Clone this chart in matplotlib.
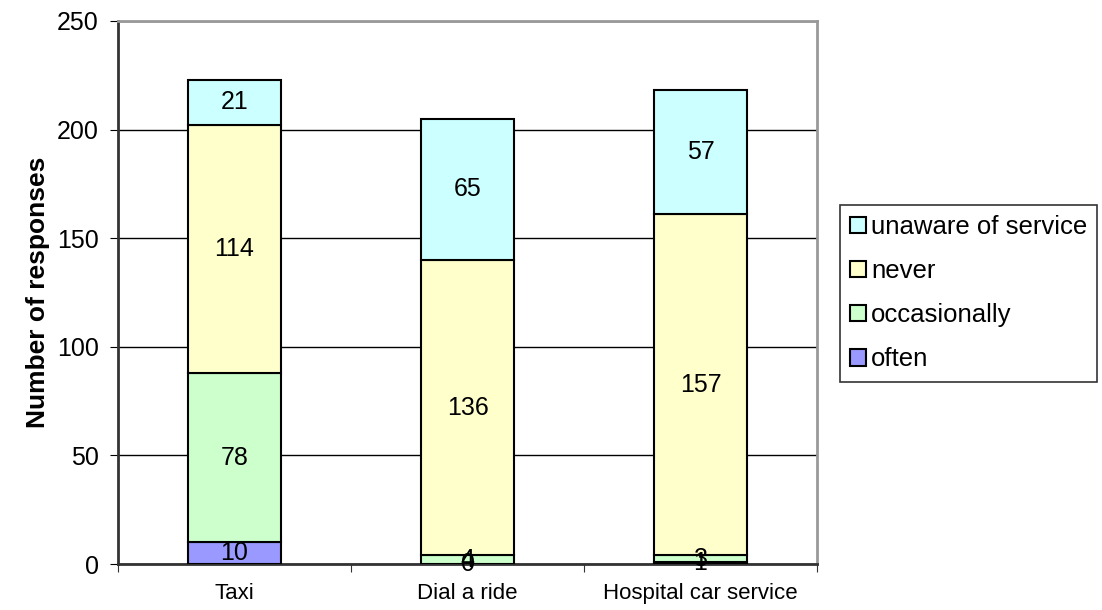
import numpy as np
import matplotlib.pyplot as plt

plt.rcParams['font.family'] = ['Liberation Sans', 'DejaVu Sans']

# data
categories = ["Taxi", "Dial a ride", "Hospital car service"]
series = ["often", "occasionally", "never", "unaware of service"]
often = [10, 0, 1]
occasionally = [78, 4, 3]
never = [114, 136, 157]
unaware = [21, 65, 57]
colors = ["#9999FF", "#CCFFCC", "#FFFFCC", "#CCFFFF"]

fig = plt.figure(figsize=(11.02, 6.10), dpi=100)
ax = fig.add_axes([0.1071, 0.0754, 0.6343, 0.8902])

x = np.arange(len(categories))
bottom = np.zeros(len(categories))
handles = []
for name, vals, col in zip(series, [often, occasionally, never, unaware], colors):
    vals = np.array(vals, dtype=float)
    bars = ax.bar(x, vals, width=0.4, bottom=bottom, color=col,
                  edgecolor="black", linewidth=1.5, label=name, zorder=3)
    handles.append(bars)
    for xi, b, v in zip(x, bottom, vals):
        ax.text(xi, b + v / 2, f"{int(v)}", ha="center", va="center",
                fontsize=18, zorder=4)
    bottom += vals

ax.set_xlim(-0.5, 2.5)
ax.set_ylim(0, 250)
ax.set_yticks(np.arange(0, 251, 50))
ax.yaxis.grid(True, color="black", linewidth=1, zorder=0)
ax.set_axisbelow(True)

ax.set_xticks([-0.5, 0.5, 1.5, 2.5], minor=False)
ax.set_xticklabels([])
ax.set_xticks(x, minor=True)
ax.set_xticklabels(categories, minor=True, fontsize=16)
ax.tick_params(axis="x", which="minor", length=0, pad=14)
ax.tick_params(axis="x", which="major", length=6, direction="out", color="#333333")
ax.tick_params(axis="y", length=6, direction="out", labelsize=18, pad=8)

ax.set_ylabel("Number of responses", fontsize=19, fontweight="bold", labelpad=5)

for side in ["left", "bottom"]:
    ax.spines[side].set_color("#333333")
    ax.spines[side].set_linewidth(2)
for side in ["top", "right"]:
    ax.spines[side].set_color("#999999")
    ax.spines[side].set_linewidth(2)

leg = fig.legend(handles[::-1], series[::-1], loc="upper left",
                 bbox_to_anchor=(840 / 1102, 1 - 205 / 610),
                 fontsize=18.5, frameon=True, fancybox=False,
                 handlelength=0.6, handleheight=0.6, handletextpad=0.2,
                 labelspacing=0.78, borderpad=0.4, borderaxespad=0)
leg.get_frame().set_edgecolor("black")
leg.get_frame().set_linewidth(1.2)

fig.savefig("out.png", dpi=100)
